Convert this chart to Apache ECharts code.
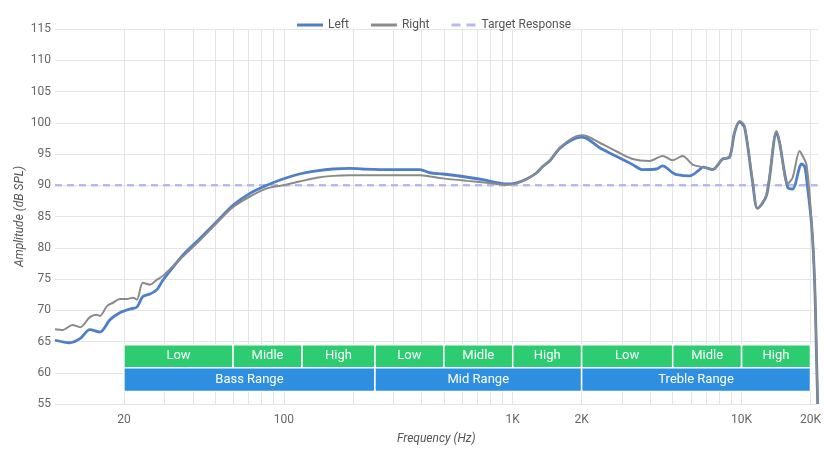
<!DOCTYPE html>
<html><head><meta charset="utf-8">
<script src="https://cdn.jsdelivr.net/npm/echarts@6/dist/echarts.min.js"></script>
<style>html,body{margin:0;padding:0;background:#fff}#c{width:824px;height:450px}</style>
</head><body><div id="c"></div>
<script>
// ---- data ----
const leftFreq = [10,11.6,12.9,14.2,15.7,17.4,19.2,21.3,22.8,24.2,26,27.9,29.6,36.2,43,51,59.9,71.1,84.3,99,117,139,164,194,221,299,393,434,495,605,740,851,942,1041,1151,1273,1352,1452,1604,1828,2000,2127,2399,2846,3342,3695,4255,4518,5000,5204,5929,6559,6761,7470,8260,8866,9315,9795,10300,11170,11740,12860,14210,14650,15880,16700,18290,18850,19230,20230,20840,21290,21500];
const leftDb   = [65.2,64.8,65.5,66.9,66.5,68.5,69.6,70.2,70.5,72.2,72.6,73.3,74.8,78.8,81.5,84.2,86.8,88.7,90.0,91.0,91.8,92.3,92.6,92.7,92.6,92.5,92.5,92.0,91.8,91.4,90.9,90.4,90.2,90.4,91.0,92.0,93.0,93.9,95.9,97.3,97.7,97.4,96.0,94.6,93.3,92.5,92.6,93.1,92.0,91.7,91.5,92.5,92.9,92.5,94.2,94.5,98.4,100.1,99.3,90.5,86.3,88.4,98.4,96.8,89.7,89.4,93.4,93.0,91.0,83.6,74.7,61.4,55];
const rightFreq = [10,10.8,11.9,12.9,14.2,15.2,15.7,16.9,17.9,19.2,20.6,21.9,22.8,24.2,26,27.9,29.6,36.2,43,51,59.9,71.1,84.3,99,117,139,164,194,221,299,393,434,495,630,770,942,1041,1151,1273,1352,1452,1604,1828,2000,2127,2399,2846,3342,3963,4518,5000,5524,6110,6761,7470,8260,8866,9315,9795,10300,11170,11740,12860,14210,14650,15880,16700,17920,18290,19230,20230,20840,21290,21500];
const rightDb   = [66.95,66.85,67.65,67.3,68.9,69.3,69.1,70.7,71.2,71.8,71.8,72.0,71.7,74.4,74.1,74.9,75.5,78.6,81.2,84.0,86.5,88.2,89.5,90.0,90.6,91.2,91.5,91.6,91.6,91.6,91.6,91.4,91.1,90.7,90.4,90.1,90.3,91.0,92.0,93.0,94.0,96.0,97.6,98.0,97.8,96.8,95.4,94.2,93.9,94.7,94.0,94.7,93.3,92.9,92.6,94.2,94.6,98.6,100.3,99.5,90.8,86.3,88.6,98.7,97.0,90.2,91.2,95.5,95.0,93.2,84.0,75.0,61.5,55];
const targetFreq = [10, 21500];
const targetDb = [90, 90];
const xTickValues = [20, 100, 1000, 2000, 10000, 20000];
const gridFreqs = [20,30,40,50,60,70,80,90,100,200,300,400,500,600,700,800,900,1000,2000,3000,4000,5000,6000,7000,8000,9000,10000,20000];
const subBandEdges = [20,60,120,250,500,1000,2000,5000,10000,20000];
const subBandNames = ['Low','Midle','High','Low','Midle','High','Low','Midle','High'];
const rangeEdges = [20,250,2000,20000];
const rangeNames = ['Bass Range','Mid Range','Treble Range'];

// ---- build ----
const zip = (a, b) => a.map((v, i) => [v, b[i]]);
const FONT = 'Roboto';
const SUB_TOP = 64.5, SUB_BOT = 60.8, RNG_BOT = 57.0;
const GREEN = '#2ecc71', BLUE = '#2e8fe0';
const LEFT_C = '#4f7fc6', RIGHT_C = '#8a8a8a', TARGET_C = '#b9b9f2';

const subAreas = subBandNames.map((n, i) => [
  {name: n, xAxis: subBandEdges[i], yAxis: SUB_TOP, itemStyle: {color: GREEN}},
  {xAxis: subBandEdges[i + 1], yAxis: SUB_BOT}
]);
const rangeAreas = rangeNames.map((n, i) => [
  {name: n, xAxis: rangeEdges[i], yAxis: SUB_BOT, itemStyle: {color: BLUE}},
  {xAxis: rangeEdges[i + 1], yAxis: RNG_BOT}
]);

const chart = echarts.init(document.getElementById('c'), null, {renderer: 'canvas'});
chart.setOption({
  animation: false,
  backgroundColor: '#fff',
  textStyle: {fontFamily: FONT},
  legend: {
    top: 14, left: 292, itemGap: 22, itemWidth: 26, itemHeight: 3,
    data: [
      {name: 'Left', icon: 'rect', itemStyle: {color: LEFT_C}},
      {name: 'Right', icon: 'rect', itemStyle: {color: RIGHT_C}},
      {name: 'Target Response', icon: 'path://M0,0h9v3h-9z M15,0h9v3h-9z', itemStyle: {color: TARGET_C}}
    ],
    textStyle: {color: '#555', fontSize: 12, fontFamily: FONT}
  },
  grid: {left: 55, right: 6, top: 29, bottom: 43},
  xAxis: {
    type: 'log', logBase: 10, min: 10, max: 21500,
    name: 'Frequency (Hz)', nameLocation: 'middle', nameGap: 29,
    nameTextStyle: {fontStyle: 'italic', color: '#555', fontSize: 12},
    axisLine: {show: false}, axisTick: {show: false}, splitLine: {show: false},
    axisLabel: {
      customValues: xTickValues, color: '#666', fontSize: 12, margin: 10,
      formatter: v => v >= 1000 ? (v / 1000) + 'K' : String(v)
    }
  },
  yAxis: {
    type: 'value', min: 55, max: 115, interval: 5,
    name: 'Amplitude (dB SPL)', nameLocation: 'middle', nameGap: 29, nameMoveOverlap: false,
    nameTextStyle: {fontStyle: 'italic', color: '#555', fontSize: 12},
    axisLine: {show: false}, axisTick: {show: false},
    axisLabel: {color: '#666', fontSize: 12, margin: 4},
    splitLine: {lineStyle: {color: '#e4e4e4', width: 1}}
  },
  series: [
    {
      name: 'grid', type: 'line', data: [], z: 1, silent: true,
      markLine: {
        z: 1, silent: true, symbol: 'none', label: {show: false}, animation: false,
        lineStyle: {color: '#e4e4e4', width: 1, type: 'solid'},
        emphasis: {disabled: true},
        data: gridFreqs.map(f => ({xAxis: f}))
      }
    },
    {
      name: 'bands', type: 'line', data: [], z: 3, silent: true,
      markArea: {
        z: 4, silent: true,
        itemStyle: {borderColor: '#fff', borderWidth: 1.5, opacity: 1},
        label: {show: true, position: 'inside', color: '#fff', fontSize: 13, fontFamily: FONT},
        emphasis: {disabled: true},
        data: subAreas.concat(rangeAreas)
      }
    },
    {
      name: 'Target Response', type: 'line', z: 5,
      data: zip(targetFreq, targetDb), symbol: 'none',
      lineStyle: {color: TARGET_C, width: 2.5, type: [7, 5]},
      itemStyle: {color: TARGET_C}
    },
    {
      name: 'Left', type: 'line', z: 6, smooth: 0.3, symbol: 'none',
      data: zip(leftFreq, leftDb),
      lineStyle: {color: LEFT_C, width: 2.8},
      itemStyle: {color: LEFT_C}
    },
    {
      name: 'Right', type: 'line', z: 7, smooth: 0.3, symbol: 'none',
      data: zip(rightFreq, rightDb),
      lineStyle: {color: RIGHT_C, width: 2},
      itemStyle: {color: RIGHT_C}
    }
  ]
});
</script></body></html>
